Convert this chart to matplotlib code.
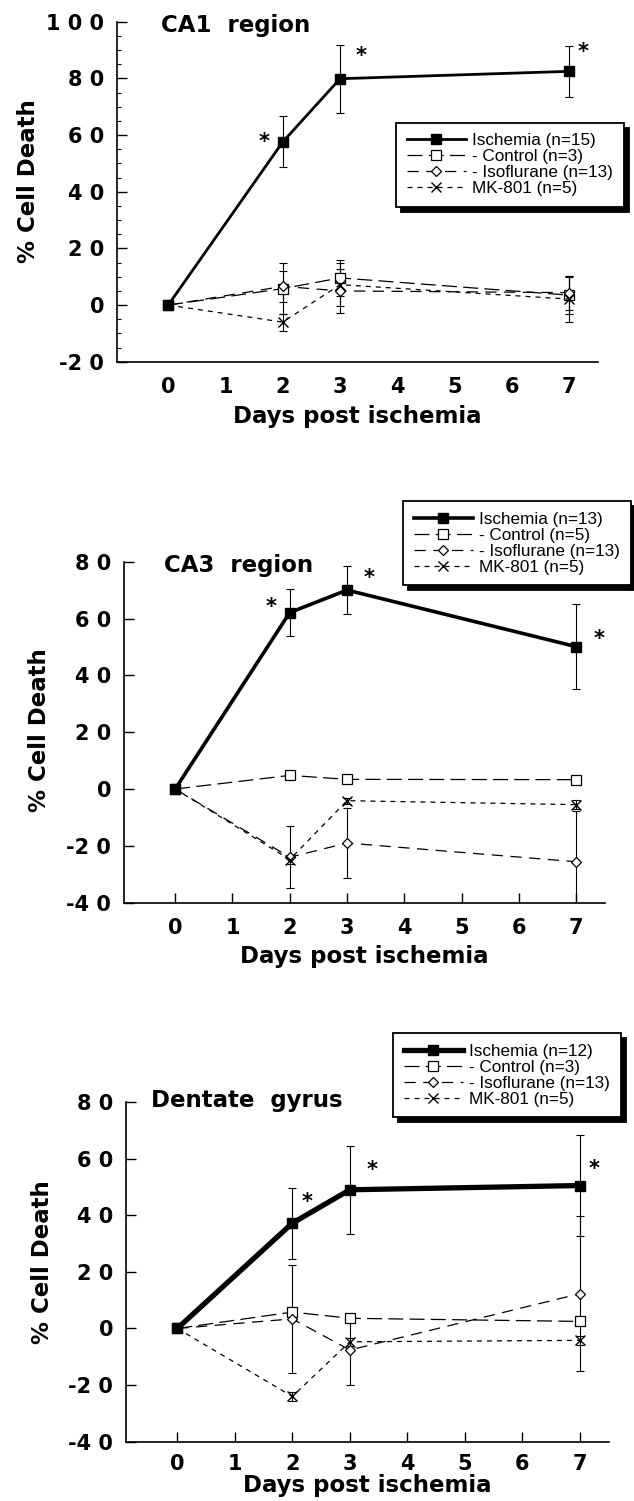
import matplotlib
matplotlib.use("Agg")
import matplotlib.pyplot as plt
from matplotlib.ticker import FixedLocator, MultipleLocator

# ---------------- data ----------------
days = [0, 2, 3, 7]

ca1_isch = [0, 57.6, 79.9, 82.5]
ca1_isch_err = [0, 9.0, 12.0, 9.0]
ca1_ctrl = [0, 5.8, 9.6, 3.5]
ca1_ctrl_err = [0, 9.0, 6.3, 6.5]
ca1_iso = [0, 6.6, 5.0, 4.4]
ca1_iso_err = [0, 5.6, 7.7, 6.0]
ca1_mk = [0, -6.0, 7.2, 2.1]
ca1_mk_err = [0, 3.0, 7.7, 8.0]

ca3_isch = [0, 62.1, 70.0, 50.1]
ca3_isch_err = [0, 8.2, 8.5, 15.0]
ca3_ctrl = [0, 4.8, 3.4, 3.3]
ca3_ctrl_err = [0, 1.2, 1.0, 1.2]
ca3_iso = [0, -24.0, -19.0, -25.6]
ca3_iso_err = [0, 11.0, 12.3, 18.0]
ca3_mk = [0, -24.8, -4.1, -5.5]
ca3_mk_err = [0, 1.5, 1.0, 1.5]

dg_isch = [0, 37.2, 49.0, 50.5]
dg_isch_err = [0, 12.6, 15.6, 18.0]
dg_ctrl = [0, 5.8, 3.6, 2.5]
dg_ctrl_err = [0, 1.5, 1.2, 1.2]
dg_iso = [0, 3.4, -7.6, 12.3]
dg_iso_err = [0, 19.0, 12.2, 27.3]
dg_mk = [0, -24.0, -4.7, -4.2]
dg_mk_err = [0, 1.5, 1.5, 1.5]

ca1_labels = ["Ischemia (n=15)", "- Control (n=3)", "- Isoflurane (n=13)", "MK-801 (n=5)"]
ca3_labels = ["Ischemia (n=13)", "- Control (n=5)", "- Isoflurane (n=13)", "MK-801 (n=5)"]
dg_labels = ["Ischemia (n=12)", "- Control (n=3)", "- Isoflurane (n=13)", "MK-801 (n=5)"]

titles = ["CA1  region", "CA3  region", "Dentate  gyrus"]

x_ticks = [0, 1, 2, 3, 4, 5, 6, 7]
x_ticklabels = ["0", "1", "2", "3", "4", "5", "6", "7"]
ca1_yticks = [-20, 0, 20, 40, 60, 80, 100]
ca1_yticklabels = ["-2 0", "0", "2 0", "4 0", "6 0", "8 0", "1 0 0"]
ca3_yticks = [-40, -20, 0, 20, 40, 60, 80]
ca3_yticklabels = ["-4 0", "-2 0", "0", "2 0", "4 0", "6 0", "8 0"]

x_label = "Days post ischemia"
y_label = "% Cell Death"

# ---------------- layout ----------------
W, H = 634, 1501
fig = plt.figure(figsize=(W / 100, H / 100), dpi=100)

BOLD = dict(family="DejaVu Sans", weight="bold")

panels = [
    dict(rect=(0.184, 0.759, 0.759, 0.2265), ylim=(-20, 100),
         yt=ca1_yticks, ytl=ca1_yticklabels, minor=True, xticklen=0,
         isch=(ca1_isch, ca1_isch_err), ctrl=(ca1_ctrl, ca1_ctrl_err),
         iso=(ca1_iso, ca1_iso_err), mk=(ca1_mk, ca1_mk_err),
         labels=ca1_labels, lw=2.0, title=titles[0], tpos=(-0.12, 98.8),
         stars=[(1.67, 59.4), (3.36, 90.0), (7.24, 91.2)],
         leg=(396, 122.7), ylab=(-0.159, 0.53), xpad=11, lpad=6),
    dict(rect=(0.195, 0.3986, 0.759, 0.2272), ylim=(-40, 80),
         yt=ca3_yticks, ytl=ca3_yticklabels, minor=False, xticklen=7,
         isch=(ca3_isch, ca3_isch_err), ctrl=(ca3_ctrl, ca3_ctrl_err),
         iso=(ca3_iso, ca3_iso_err), mk=(ca3_mk, ca3_mk_err),
         labels=ca3_labels, lw=2.6, title=titles[1], tpos=(-0.19, 78.5),
         stars=[(1.67, 65.9), (3.38, 76.1), (7.40, 54.6)],
         leg=(403, 501), ylab=(-0.151, 0.506), xpad=11, lpad=5),
    dict(rect=(0.198, 0.0395, 0.762, 0.2263), ylim=(-40, 80),
         yt=ca3_yticks, ytl=ca3_yticklabels, minor=False, xticklen=7,
         isch=(dg_isch, dg_isch_err), ctrl=(dg_ctrl, dg_ctrl_err),
         iso=(dg_iso, dg_iso_err), mk=(dg_mk, dg_mk_err),
         labels=dg_labels, lw=3.8, title=titles[2], tpos=(-0.45, 80.5),
         stars=[(2.25, 46.5), (3.38, 57.8), (7.25, 58.2)],
         leg=(393, 1033), ylab=(-0.148, 0.53), xpad=9, lpad=0),
]

for p in panels:
    ax = fig.add_axes(p["rect"])
    ax.set_xlim(-0.9, 7.5)
    ax.set_ylim(*p["ylim"])

    # error bars (drawn separately so legend shows no bars)
    for (vals, errs) in (p["ctrl"], p["iso"], p["mk"], p["isch"]):
        ax.errorbar(days, vals, yerr=errs, fmt="none", ecolor="k",
                    elinewidth=0.8, capsize=3, capthick=0.8, zorder=2)

    h_isch, = ax.plot(days, p["isch"][0], color="k", lw=p["lw"], marker="s",
                      ms=7.5, mfc="k", mec="k", zorder=5)
    h_ctrl, = ax.plot(days, p["ctrl"][0], color="k", lw=0.9, ls=(0, (12, 5)),
                      marker="s", ms=6.5, mfc="white", mec="k", mew=0.9, zorder=4)
    h_iso, = ax.plot(days, p["iso"][0], color="k", lw=0.9, ls=(0, (9, 6)),
                     marker="D", ms=5.5, mfc="white", mec="k", mew=0.9, zorder=4)
    h_mk, = ax.plot(days, p["mk"][0], color="k", lw=0.9, ls=(0, (4, 4)),
                    marker="x", ms=7, mec="k", mew=1.0, zorder=4)

    # axes styling
    for s in ("top", "right"):
        ax.spines[s].set_visible(False)
    for s in ("left", "bottom"):
        ax.spines[s].set_linewidth(1.2)
    ax.xaxis.set_major_locator(FixedLocator(x_ticks))
    ax.set_xticklabels(x_ticklabels, fontsize=15, **BOLD)
    ax.yaxis.set_major_locator(FixedLocator(p["yt"]))
    ax.set_yticklabels(p["ytl"], fontsize=15, **BOLD)
    ax.tick_params(axis="x", direction="in", length=p["xticklen"], width=1.0, pad=p["xpad"])
    ax.tick_params(axis="y", direction="in", length=7, width=1.0, pad=9)
    if p["minor"]:
        ax.yaxis.set_minor_locator(MultipleLocator(5))
        ax.tick_params(axis="y", which="minor", direction="in", length=3, width=0.8)

    ax.set_xlabel(x_label, fontsize=16.5, labelpad=p["lpad"], **BOLD)
    ax.set_ylabel(y_label, fontsize=16.5, **BOLD)
    ax.yaxis.set_label_coords(*p["ylab"])

    ax.text(p["tpos"][0], p["tpos"][1], p["title"], fontsize=16.5, ha="left",
            va="center", **BOLD)

    for (sx, sy) in p["stars"]:
        ax.annotate("*", (sx, sy), xytext=(0, -4), textcoords="offset points",
                    ha="center", va="center", fontsize=15, **BOLD)

    lx, ly = p["leg"]
    leg = ax.legend([h_isch, h_ctrl, h_iso, h_mk], p["labels"], loc="upper left",
                    bbox_to_anchor=(lx / W, 1 - ly / H), bbox_transform=fig.transFigure,
                    borderaxespad=0, prop={"family": "Liberation Sans", "size": 12.3},
                    handlelength=3.5, handletextpad=0.35, labelspacing=0.06,
                    borderpad=0.62, frameon=True, fancybox=False, framealpha=1,
                    edgecolor="k",
                    shadow={"ox": 3.5, "oy": -3.5, "facecolor": "k",
                            "edgecolor": "k", "alpha": 1})
    leg.get_frame().set_linewidth(1.3)
    leg.set_zorder(10)

fig.savefig("out.png", dpi=100, facecolor="white")
